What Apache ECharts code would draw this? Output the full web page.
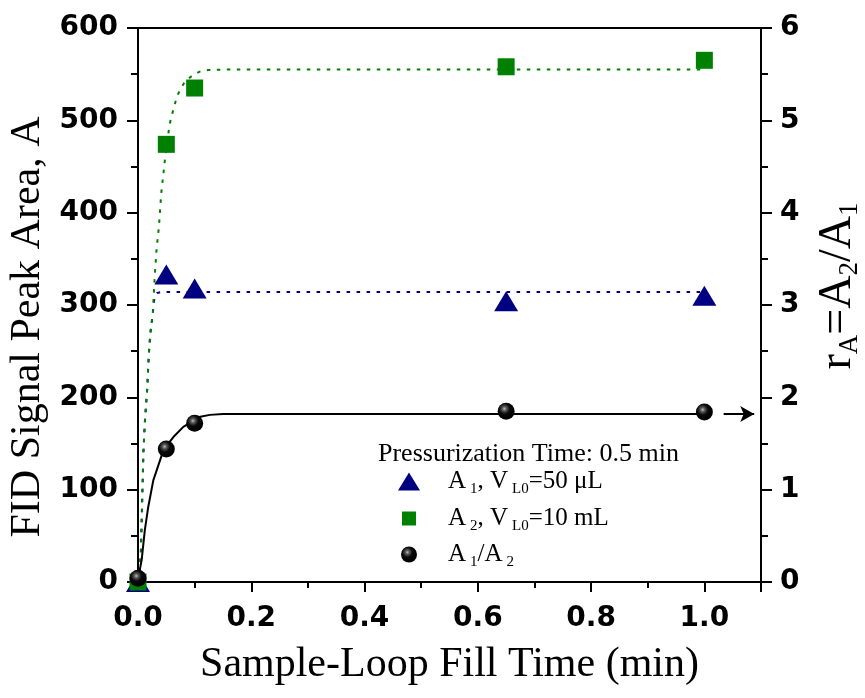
<!DOCTYPE html>
<html><head><meta charset="utf-8">
<script src="https://cdn.jsdelivr.net/npm/echarts@6/dist/echarts.min.js"></script>
<style>html,body{margin:0;padding:0;background:#fff}#c{width:865px;height:698px}</style>
</head><body><div id="c"></div>
<script>
// measured points
const fillTime = [0, 0.05, 0.1, 0.65, 1.0];
const areaA1 = [0, 333, 318, 304, 310];
const areaA2 = [0, 474, 535, 558, 565];
const ratioA = [0.04, 1.44, 1.72, 1.85, 1.84];
// fitted curves
const fitA2X = [0, 0.002, 0.005, 0.0065, 0.008, 0.0095, 0.012, 0.014, 0.0165, 0.018, 0.02, 0.0225, 0.026, 0.028, 0.030, 0.033, 0.037, 0.039, 0.041, 0.045, 0.048, 0.055, 0.058, 0.065, 0.068, 0.076, 0.083, 0.097, 0.11, 0.124, 0.15, 1.0];
const fitA2Y = [0, 5, 31, 67, 103, 140, 172, 190, 211, 233, 255, 273, 290, 313, 335, 362, 385, 403, 421, 443, 460, 492, 502, 517, 525, 535, 542, 549, 553, 554.5, 555, 555];
const fitA1X = [0, 0.002, 0.005, 0.0065, 0.008, 0.0095, 0.012, 0.014, 0.0165, 0.018, 0.02, 0.0225, 0.026, 0.028, 0.030, 0.034, 0.04, 1.0];
const fitA1Y = [0, 5, 31, 67, 103, 140, 172, 190, 211, 233, 255, 273, 290, 303, 310, 313, 314, 314];
const fitRX = [0, 0.0065, 0.012, 0.018, 0.027, 0.039, 0.045, 0.0625, 0.08, 0.11, 0.127, 0.15, 1.0];
const fitRY = [0.03, 0.24, 0.56, 0.81, 1.10, 1.32, 1.43, 1.57, 1.68, 1.79, 1.81, 1.82, 1.82];
const arrowX = [1.034, 1.088];
const arrowY = 1.82;
const xTicks = ['0.0', '0.2', '0.4', '0.6', '0.8', '1.0'];
const leftTicks = [0, 100, 200, 300, 400, 500, 600];
const rightTicks = [0, 1, 2, 3, 4, 5, 6];

const pairs = (xs, ys) => xs.map((x, i) => [x, ys[i]]);
const serif = 'Liberation Serif';
const sans = 'DejaVu Sans';
const ballColor = new echarts.graphic.RadialGradient(0.4, 0.36, 0.62, [
  {offset: 0, color: '#bdbdbd'}, {offset: 0.2, color: '#5a5a5a'}, {offset: 0.5, color: '#0a0a0a'}, {offset: 1, color: '#000'}
]);
const richLeg = {
  g1: {width: 23}, g2: {width: 27}, g3: {width: 26},
  n: {fontFamily: serif, fontSize: 25, color: '#000', lineHeight: 30},
  s: {fontFamily: serif, fontSize: 15, color: '#000', lineHeight: 15, verticalAlign: 'bottom', padding: [0, 0, 0, 4]}
};
const axisLine = {show: true, lineStyle: {color: '#000', width: 2}};
const chart = echarts.init(document.getElementById('c'), null, {renderer: 'canvas'});
chart.setOption({
  animation: false,
  backgroundColor: '#fff',
  grid: {left: 138, right: 104, top: 28, bottom: 116, show: true, borderColor: '#000', borderWidth: 2, containLabel: false, outerBoundsMode: 'none'},
  title: {text: 'Pressurization Time: 0.5 min', left: 373, top: 436,
    textStyle: {fontFamily: serif, fontSize: 26, fontWeight: 'normal', color: '#000'}},
  legend: [
    {data: [{name: 'A1', icon: 'triangle'}], left: 398, top: 469, padding: 0, orient: 'vertical', itemWidth: 22, itemHeight: 18, selectedMode: false,
      formatter: () => '{g1|}{n|A}{s|1}{n|, V}{s|L0}{n|=50 μL}', textStyle: {rich: richLeg}},
    {data: [{name: 'A2', icon: 'rect'}], left: 402, top: 506, padding: 0, orient: 'vertical', itemWidth: 14, itemHeight: 14, selectedMode: false,
      formatter: () => '{g2|}{n|A}{s|2}{n|, V}{s|L0}{n|=10 mL}', textStyle: {rich: richLeg}},
    {data: [{name: 'A1/A2', icon: 'circle', itemStyle: {color: ballColor}}], left: 401, top: 542, padding: 0, orient: 'vertical', itemWidth: 16, itemHeight: 16, selectedMode: false,
      formatter: () => '{g3|}{n|A}{s|1}{n|/A}{s|2}', textStyle: {rich: richLeg}}
  ],
  xAxis: {
    type: 'value', min: 0, max: 1.1, interval: 0.2,
    name: 'Sample-Loop Fill Time (min)', nameLocation: 'middle', nameGap: 62,
    nameTextStyle: {fontFamily: serif, fontSize: 42, color: '#000'},
    axisLine: axisLine,
    axisTick: {show: true, inside: false, length: 10, lineStyle: {color: '#000', width: 2}},
    minorTick: {show: true, splitNumber: 2, length: 6, lineStyle: {color: '#000', width: 2}},
    splitLine: {show: false},
    axisLabel: {margin: 23, fontFamily: sans, fontWeight: 'bold', fontSize: 28, color: '#000',
      formatter: v => { const i = Math.round(v / 0.2); return (Math.abs(v - i * 0.2) < 1e-6 && i < xTicks.length) ? xTicks[i] : ''; }}
  },
  yAxis: [
    {type: 'value', min: 0, max: 600, interval: 100, position: 'left',
      name: 'FID Signal Peak Area, A', nameLocation: 'middle', nameGap: 86,
      nameTextStyle: {fontFamily: serif, fontSize: 42, color: '#000', padding: [0, 44, 0, 0]},
      axisLine: axisLine,
      axisTick: {show: true, length: 11, lineStyle: {color: '#000', width: 2}},
      minorTick: {show: true, splitNumber: 2, length: 7, lineStyle: {color: '#000', width: 2}},
      splitLine: {show: false},
      axisLabel: {margin: 20, fontFamily: sans, fontWeight: 'bold', fontSize: 28, color: '#000',
        formatter: v => leftTicks.includes(v) ? String(v) : ''}},
    {type: 'value', min: 0, max: 6, interval: 1, position: 'right',
      name: '{r|r}{rs|A}{r|=A}{rs|2}{r|/A}{rs|1}', nameLocation: 'middle', nameGap: 52, nameRotate: 90,
      nameTextStyle: {color: '#000', padding: [0, 0, 0, 38], rich: {
        r: {fontFamily: serif, fontSize: 46, color: '#000', lineHeight: 50},
        rs: {fontFamily: serif, fontSize: 27, color: '#000', lineHeight: 27, verticalAlign: 'bottom'}
      }},
      axisLine: axisLine,
      axisTick: {show: true, length: 11, lineStyle: {color: '#000', width: 2}},
      minorTick: {show: true, splitNumber: 2, length: 7, lineStyle: {color: '#000', width: 2}},
      splitLine: {show: false},
      axisLabel: {margin: 19, fontFamily: sans, fontWeight: 'bold', fontSize: 28, color: '#000',
        formatter: v => rightTicks.includes(v) ? String(v) : ''}}
  ],
  series: [
    {name: 'fitA1', type: 'line', data: pairs(fitA1X, fitA1Y), showSymbol: false, symbol: 'none', silent: true, z: 2,
      lineStyle: {color: '#000080', width: 2, type: [3.5, 6.5]}},
    {name: 'fitA2', type: 'line', data: pairs(fitA2X, fitA2Y), showSymbol: false, symbol: 'none', silent: true, z: 2,
      lineStyle: {color: '#008000', width: 2, type: [3.5, 6.5]}},
    {name: 'fitR', type: 'line', yAxisIndex: 1, data: pairs(fitRX, fitRY), showSymbol: false, symbol: 'none', silent: true, z: 2,
      lineStyle: {color: '#000', width: 2},
      markLine: {silent: true, symbol: ['none', 'arrow'], symbolSize: [12, 14], label: {show: false},
        lineStyle: {color: '#000', width: 2, type: 'solid'},
        data: [[{coord: [arrowX[0], arrowY]}, {coord: [arrowX[1], arrowY]}]]}},
    {name: 'A1', type: 'scatter', data: pairs(fillTime, areaA1), symbol: 'triangle', symbolSize: [24, 20], clip: false, z: 5,
      itemStyle: {color: '#000080', opacity: 1}},
    {name: 'A2', type: 'scatter', data: pairs(fillTime, areaA2), symbol: 'rect', symbolSize: 17, clip: false, z: 5,
      itemStyle: {color: '#008000', opacity: 1}},
    {name: 'A1/A2', type: 'scatter', yAxisIndex: 1, data: pairs(fillTime, ratioA), symbol: 'circle', symbolSize: 17, clip: false, z: 6,
      itemStyle: {color: ballColor, opacity: 1}}
  ]
});
</script></body></html>
